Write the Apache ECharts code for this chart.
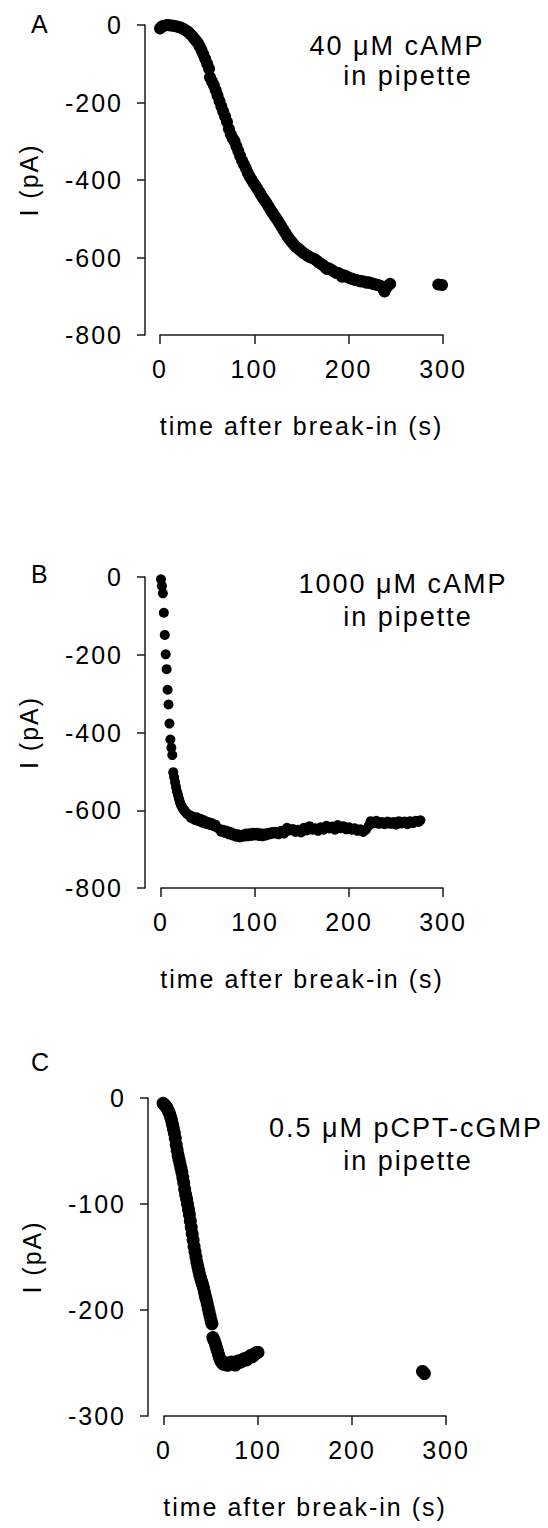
<!DOCTYPE html>
<html><head><meta charset="utf-8">
<script src="https://cdn.jsdelivr.net/npm/echarts@6/dist/echarts.min.js"></script>
<style>
html,body{margin:0;padding:0;background:#fff;}
#c{width:548px;height:1528px;}
#c text{letter-spacing:2px;}
</style></head><body><div id="c"></div>
<script>
// ---- data ----
const xTicks = [0, 100, 200, 300];
const panelLabels = ['A', 'B', 'C'];
const noteLine1 = ['40 μM cAMP', '1000 μM cAMP', '0.5 μM pCPT-cGMP'];
const noteLine2 = 'in pipette';
const xTitle = 'time after break-in (s)';
const yTitle = 'I (pA)';

// Panel A: 40 uM cAMP
const timeA = [0,2,4,6,8,10,12,14,16,18,20,22,24,26,28,30,32,34,36,38,40,42,44,46,48,50,52,53,55,57,59,61,63,65,67,69,71,73,75,77,79,81,83,85,87,89,91,93,95,97,99,101,103,105,107,109,111,113,115,117,119,121,123,125,127,129,131,133,135,137,139,141,143,145,147,149,151,153,155,157,159,161,163,165,167,169,171,173,175,177,179,181,183,185,187,189,191,193,195,197,199,201,203,205,207,209,211,213,215,217,219,221,223,225,227,229,231,233,235,237,238,240,242,244,295,299];
const currA = [-9,-4,-2,-1,0,-1,-1,-2,-3,-4,-5,-7,-9,-12,-15,-18,-23,-28,-34,-40,-46,-55,-65,-76,-88,-100,-113,-135,-145,-155,-168,-182,-196,-210,-223,-236,-250,-268,-282,-292,-300,-313,-325,-338,-350,-360,-370,-381,-391,-399,-407,-414,-422,-430,-438,-446,-453,-460,-468,-476,-484,-491,-498,-505,-513,-521,-529,-537,-545,-552,-558,-564,-570,-574,-578,-582,-586,-590,-593,-596,-599,-601,-603,-606,-610,-614,-617,-620,-625,-630,-628,-631,-634,-637,-640,-640,-643,-650,-646,-648,-651,-653,-655,-656,-658,-659,-660,-662,-661,-663,-665,-664,-666,-667,-669,-670,-671,-673,-675,-682,-688,-678,-672,-668,-670,-671];

// Panel B: 1000 uM cAMP
const timeB = [0,1,2,3,4,5,6,7,8,9,10,11,12,13,14,15,16,17,18,19,20,21,22,23,24,25,26,27,28,30,32,34,36,38,40,42,44,46,48,50,52,54,56,58,60,62,64,66,68,70,72,74,76,78,80,82,84,86,88,90,92,94,96,98,100,102,104,106,108,110,112,114,116,118,120,122,125,128,131,134,137,140,143,146,149,152,155,158,161,164,167,170,173,176,179,182,185,188,191,194,197,200,203,206,209,212,215,218,221,223,226,229,232,235,238,241,244,247,250,253,256,259,262,265,268,271,274,276];
const currB = [-6,-23,-42,-92,-149,-199,-237,-290,-328,-377,-418,-439,-458,-502,-515,-528,-540,-552,-560,-570,-578,-585,-590,-595,-598,-601,-604,-607,-610,-612,-620,-616,-625,-618,-628,-622,-632,-626,-635,-630,-638,-633,-641,-637,-645,-648,-655,-650,-658,-653,-662,-656,-665,-660,-668,-662,-670,-663,-668,-660,-667,-659,-666,-658,-665,-658,-666,-659,-667,-660,-665,-658,-662,-656,-660,-655,-662,-653,-660,-645,-652,-648,-656,-650,-657,-645,-652,-641,-650,-646,-653,-644,-650,-640,-647,-642,-650,-638,-646,-641,-649,-644,-650,-646,-653,-649,-656,-650,-640,-628,-634,-627,-635,-630,-636,-629,-635,-630,-637,-628,-634,-629,-636,-628,-633,-627,-630,-626];

// Panel C: 0.5 uM pCPT-cGMP
const timeC = [-1,0,1,2,3,4,5,6,7,8,9,10,11,12,13,14,15,16,17,18,19,20,21,22,23,24,25,26,27,28,29,30,31,32,33,34,35,36,37,38,39,40,41,42,43,44,45,46,47,48,49,50,51,52,53,54,55,56,57,58,59,60,61,62,63,64,65,66,67,68,69,70,71,72,73,74,75,76,77,78,79,80,81,82,83,84,85,86,87,88,89,90,91,92,93,94,95,96,97,98,99,100,275,277];
const currC = [-5,-6,-7,-8,-9,-11,-13,-15,-18,-21,-25,-29,-33,-38,-44,-49,-54,-58,-62,-66,-70,-75,-80,-86,-91,-95,-100,-105,-110,-116,-122,-128,-134,-140,-145,-150,-155,-159,-163,-167,-170,-173,-176,-179,-183,-187,-190,-194,-198,-202,-206,-210,-213,-226,-228,-230,-233,-236,-239,-242,-245,-247,-249,-250,-251,-251,-250,-250,-252,-252,-251,-251,-250,-249,-250,-250,-251,-252,-250,-249,-248,-248,-249,-249,-248,-247,-246,-246,-247,-247,-246,-245,-244,-243,-244,-244,-243,-242,-241,-241,-240,-240,-258,-260];

const zip = (t, v) => t.map((x, i) => [x, v[i]]);

// ---- chart ----
const FONT = 'Liberation Sans, Arial, Helvetica, sans-serif';
const INK = '#000';
const FS = 25;
const chart = echarts.init(document.getElementById('c'), null, {renderer: 'svg', width: 548, height: 1528});

const panels = [
  {grid: {left: 160, width: 283, top: 25, height: 310}, yMin: -800, yStep: 200, yOff: 15, dot: 12, data: zip(timeA, currA)},
  {grid: {left: 161, width: 282, top: 577, height: 311}, yMin: -800, yStep: 200, yOff: 16, dot: 10, data: zip(timeB, currB)},
  {grid: {left: 164, width: 282, top: 1098, height: 318}, yMin: -300, yStep: 100, yOff: 16, dot: 13, data: zip(timeC, currC)}
];

const lineStyle = {color: '#1a1a1a', width: 1.5};
const txt = {fontSize: FS, color: INK, fontFamily: FONT};
const option = {
  animation: false,
  backgroundColor: '#fff',
  grid: panels.map(p => Object.assign({containLabel: false}, p.grid)),
  xAxis: panels.map((p, i) => ({
    type: 'value', gridIndex: i, position: 'bottom',
    min: xTicks[0], max: xTicks[xTicks.length - 1], interval: xTicks[1] - xTicks[0],
    axisLine: {show: true, onZero: false, lineStyle},
    axisTick: {show: true, length: 9, lineStyle},
    splitLine: {show: false},
    axisLabel: Object.assign({margin: 21}, txt),
    name: xTitle, nameLocation: 'middle', nameGap: 78,
    nameTextStyle: txt
  })),
  yAxis: panels.map((p, i) => ({
    type: 'value', gridIndex: i, position: 'left',
    min: p.yMin, max: 0, interval: p.yStep, offset: p.yOff,
    axisLine: {show: true, onZero: false, lineStyle},
    axisTick: {show: true, length: 8, lineStyle},
    splitLine: {show: false},
    axisLabel: Object.assign({margin: 22}, txt),
    name: yTitle, nameLocation: 'middle', nameGap: 104, nameRotate: 90,
    nameTextStyle: txt
  })),
  series: panels.map((p, i) => ({
    type: 'scatter', xAxisIndex: i, yAxisIndex: i, data: p.data,
    symbol: 'circle', symbolSize: p.dot, clip: false,
    itemStyle: {color: INK, opacity: 1}
  })),
  graphic: [
    {type: 'text', left: 31, top: 11, style: {text: panelLabels[0], font: FS + 'px ' + FONT, fill: INK}},
    {type: 'text', left: 31, top: 561, style: {text: panelLabels[1], font: FS + 'px ' + FONT, fill: INK}},
    {type: 'text', left: 31, top: 1049, style: {text: panelLabels[2], font: FS + 'px ' + FONT, fill: INK}},
    {type: 'text', x: 397, y: 46, style: {text: noteLine1[0], font: '27px ' + FONT, fill: INK, align: 'center', verticalAlign: 'middle'}},
    {type: 'text', x: 408, y: 76, style: {text: noteLine2, font: '27px ' + FONT, fill: INK, align: 'center', verticalAlign: 'middle'}},
    {type: 'text', x: 403, y: 584, style: {text: noteLine1[1], font: '27px ' + FONT, fill: INK, align: 'center', verticalAlign: 'middle'}},
    {type: 'text', x: 408, y: 617, style: {text: noteLine2, font: '27px ' + FONT, fill: INK, align: 'center', verticalAlign: 'middle'}},
    {type: 'text', x: 406, y: 1128, style: {text: noteLine1[2], font: '27px ' + FONT, fill: INK, align: 'center', verticalAlign: 'middle'}},
    {type: 'text', x: 408, y: 1161, style: {text: noteLine2, font: '27px ' + FONT, fill: INK, align: 'center', verticalAlign: 'middle'}}
  ]
};
chart.setOption(option);
</script></body></html>
